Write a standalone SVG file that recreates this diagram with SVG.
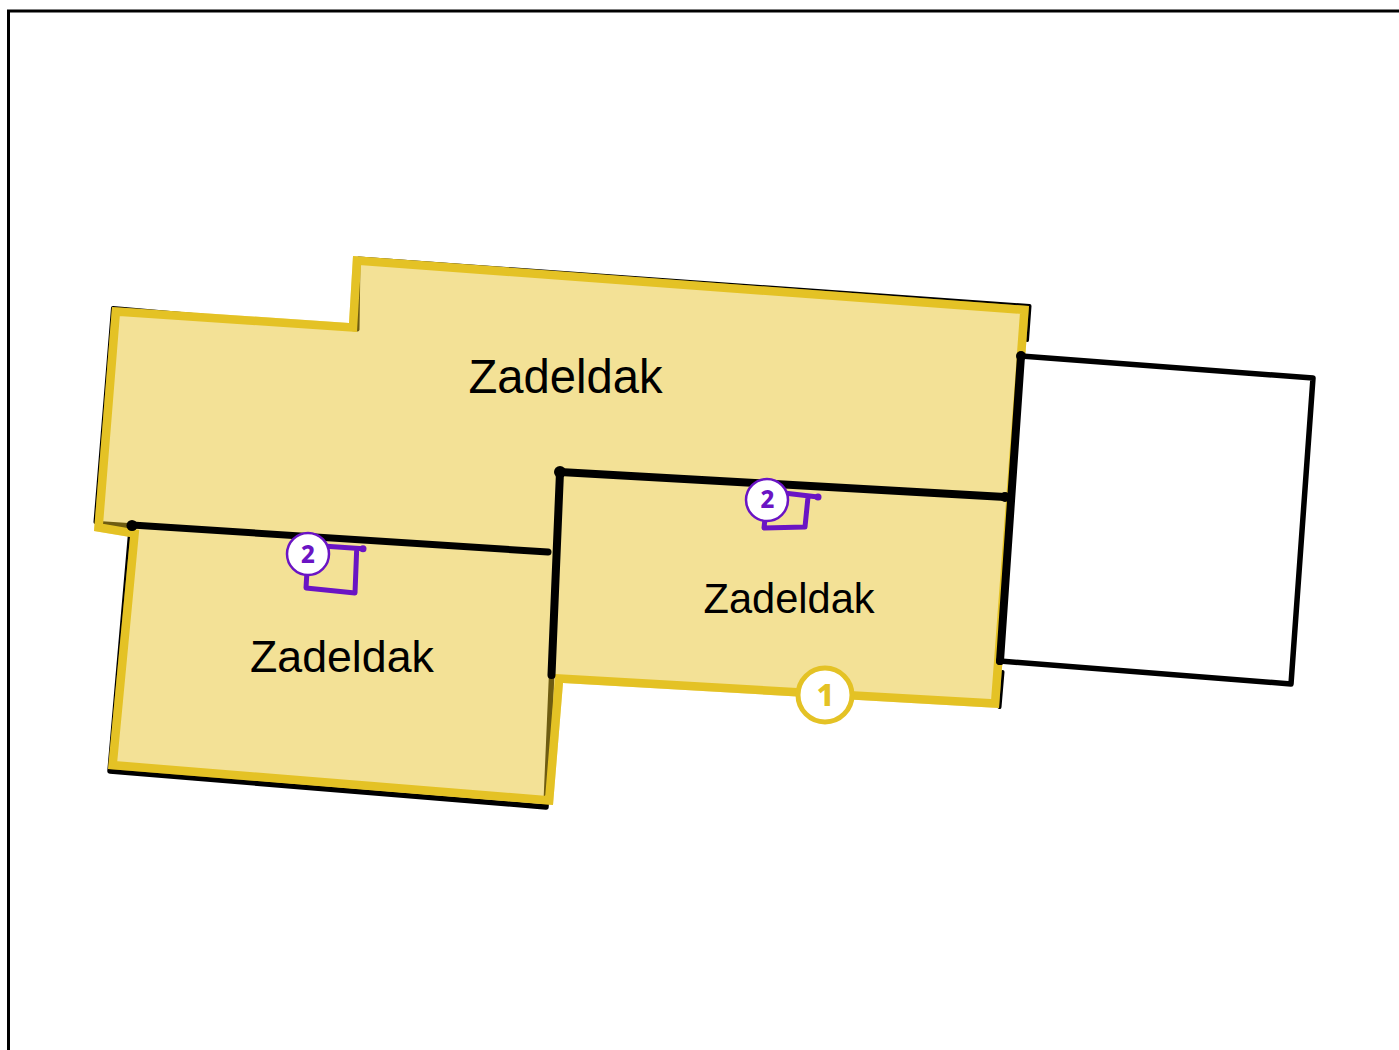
<svg xmlns="http://www.w3.org/2000/svg" width="1399" height="1050" viewBox="0 0 1399 1050">
  <style>
    .wall{fill:none;stroke:#000;stroke-linecap:round;stroke-linejoin:round}
    .mark{fill:none;stroke:#6a14c4;stroke-width:5;stroke-linecap:round;stroke-linejoin:round}
    .lbl{font-family:"Liberation Sans",Arial,sans-serif;fill:#000}
    .num{font-family:"Noto Sans","Open Sans",sans-serif;font-weight:800;text-anchor:middle}
  </style>
  <defs>
    <clipPath id="roofClip">
      <polygon points="112,307 349,323 353,256 1029,306 999,708 563,683 553,805 108,769 130,537 94,531"/>
    </clipPath>
  </defs>
  <rect x="0" y="0" width="1399" height="1050" fill="#fff"/>
  <path id="frame" d="M8.5 1050V11H1399" fill="none" stroke="#000" stroke-width="3"/>
  <g id="connectors">
    <path class="wall" stroke-width="5.5" d="M132 526L102 524M551.5 678L546 807L110 771L131 530"/>
    <path class="wall" stroke-width="4" d="M95.5 522L113 308L357.5 329.5L358.5 258.5L1029.5 306L1027 340M1002.5 672L999.5 707"/>
  </g>
  <g id="roof">
    <polygon points="112,307 349,323 353,256 1029,306 999,708 563,683 553,805 108,769 130,537 94,531" fill="#e5c124" fill-opacity="0.48"/>
    <polygon points="112,307 349,323 353,256 1029,306 999,708 563,683 553,805 108,769 130,537 94,531" fill="none" stroke="#e4c225" stroke-width="17" stroke-linejoin="miter" clip-path="url(#roofClip)"/>
  </g>
  <g id="room">
    <polygon class="wall" stroke-width="5.5" points="1021,356 1313,378 1291,684 1000,661" style="fill:#fff"/>
  </g>
  <g id="walls">
    <path class="wall" stroke-width="7" d="M132 525L548 552"/>
    <circle cx="132" cy="525.5" r="5.5"/>
    <path class="wall" stroke-width="8" d="M560 472L1005 497M560 472L551.5 675M1021 356L1000 661"/>
    <circle cx="560" cy="472" r="6"/>
    <circle cx="1005" cy="497" r="5"/>
    <circle cx="1021" cy="356" r="5"/>
    <circle cx="1000" cy="661" r="4"/>
  </g>
  <g id="label-1"><text class="lbl" x="468.5" y="393" font-size="47.2">Zadeldak</text></g>
  <g id="label-2"><text class="lbl" x="703.5" y="613" font-size="41.6">Zadeldak</text></g>
  <g id="label-3"><text class="lbl" x="250" y="672" font-size="44.7">Zadeldak</text></g>
  <g id="marker-2a">
    <path class="mark" d="M308 545L363 548.7M356.7 549L355 593L306 588L308 554"/>
    <circle cx="363" cy="548.7" r="3.5" fill="#6a14c4"/>
    <circle cx="308" cy="554" r="21" fill="#fff" stroke="#6a14c4" stroke-width="2.5"/>
    <text class="num" x="308" y="562.5" font-size="24" fill="#6a14c4">2</text>
  </g>
  <g id="marker-2b">
    <path class="mark" d="M767 491L818 497M808 497L805 527L764 528L767 500"/>
    <circle cx="818" cy="497" r="3.5" fill="#6a14c4"/>
    <circle cx="767" cy="500" r="21" fill="#fff" stroke="#6a14c4" stroke-width="2.5"/>
    <text class="num" x="767.5" y="508" font-size="24" fill="#6a14c4">2</text>
  </g>
  <g id="marker-1">
    <circle cx="825" cy="695" r="27" fill="#fff" stroke="#e4c225" stroke-width="5"/>
    <text class="num" x="825.5" y="706" font-size="31" fill="#e4c225">1</text>
  </g>
</svg>
